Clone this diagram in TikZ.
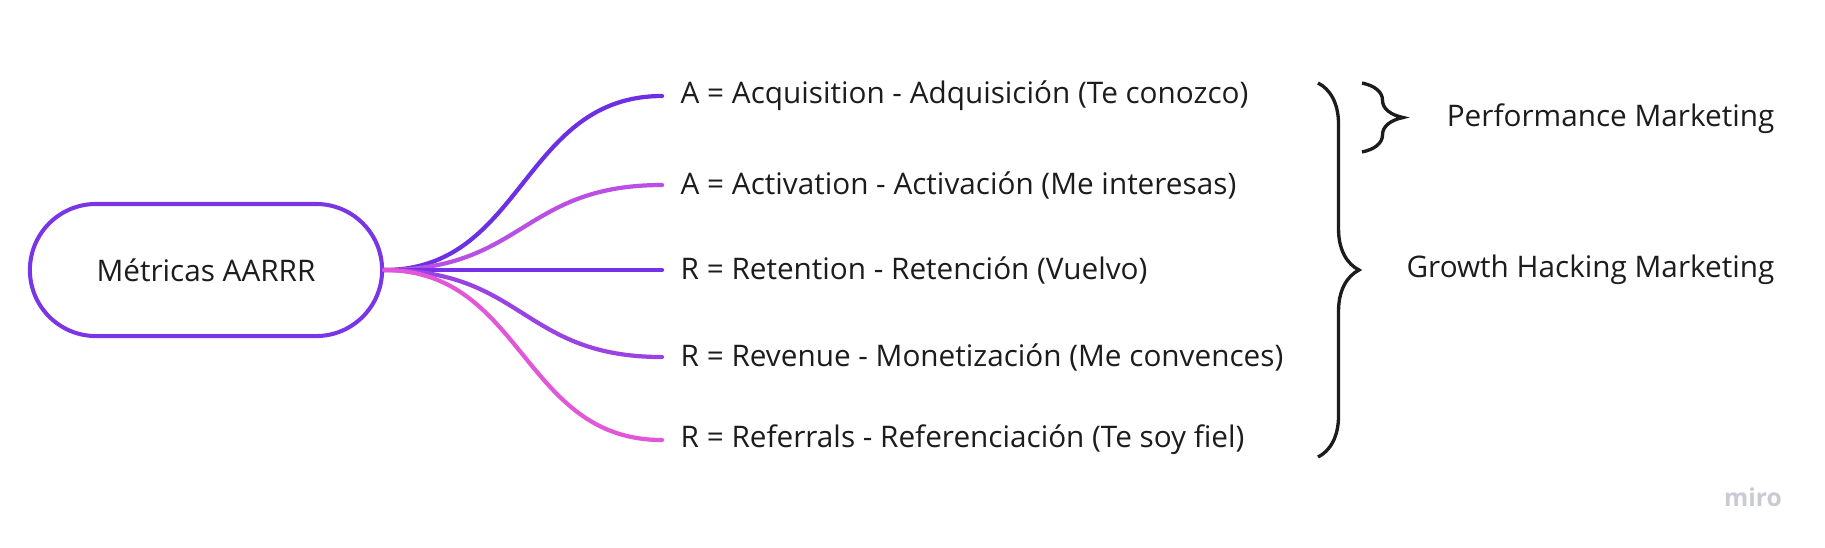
\documentclass[tikz,border=0pt]{standalone}
\usepackage{fontspec}
\setmainfont{Open Sans}
\usetikzlibrary{decorations.pathreplacing}

\definecolor{ink}{HTML}{1C1C1C}
\definecolor{rootline}{HTML}{7A36E6}
\definecolor{branchA}{HTML}{6C2FE3}
\definecolor{branchB}{HTML}{BA4FE3}
\definecolor{branchC}{HTML}{7631E8}
\definecolor{branchD}{HTML}{9B42E3}
\definecolor{branchE}{HTML}{E257D8}
\definecolor{logogray}{HTML}{CACAD2}

\tikzset{
  branch/.style={line width=1.2pt, line cap=round},
  item/.style={anchor=west, inner sep=0pt, text=ink, font=\fontsize{8.45pt}{10pt}\selectfont},
  bracket/.style={decorate, decoration={brace, amplitude=0.41cm}, line width=0.95pt, draw=ink},
}

\begin{document}
\begin{tikzpicture}[x=0.01cm, y=-0.01cm]
\useasboundingbox (0,0) rectangle (1825,547);

% root of the mind map
\node[item, anchor=center, draw=rootline, line width=1.15pt, rounded corners=0.66cm,
      minimum width=3.52cm, minimum height=1.32cm] (root) at (206,270) {Métricas AARRR};

% the five metrics
\node[item] (acq) at (680,96) {A = Acquisition - Adquisición (Te conozco)};
\node[item] (act) at (680,185) {A = Activation - Activación (Me interesas)};
\node[item] (ret) at (680,270) {R = Retention - Retención (Vuelvo)};
\node[item] (rev) at (680,357) {R = Revenue - Monetización (Me convences)};
\node[item] (ref) at (680,440) {R = Referrals - Referenciación (Te soy fiel)};

\foreach \n/\c in {acq/branchA, act/branchB, ret/branchC, rev/branchD, ref/branchE}
    \draw[branch, draw=\c, shorten >=0.18cm] (root.east) .. controls +(140,0) and +(-158,0) .. (\n.west);

% braces
\coordinate (bigtop) at (1318,83);
\coordinate (bigbot) at (1318,457);
\coordinate (smalltop) at (1362,83);
\coordinate (smallbot) at (1362,152);
\draw[bracket] (bigtop) -- (bigbot);
\draw[bracket] (smalltop) -- (smallbot);

\node[item, anchor=east] (perf) at (1775,119) {Performance Marketing};
\node[item, anchor=east] (growth) at (1775,270) {Growth Hacking Marketing};

\node[text=logogray, inner sep=0pt, font=\fontsize{7pt}{8pt}\selectfont\bfseries] (logo) at (1753,497) {miro};
\end{tikzpicture}
\end{document}
